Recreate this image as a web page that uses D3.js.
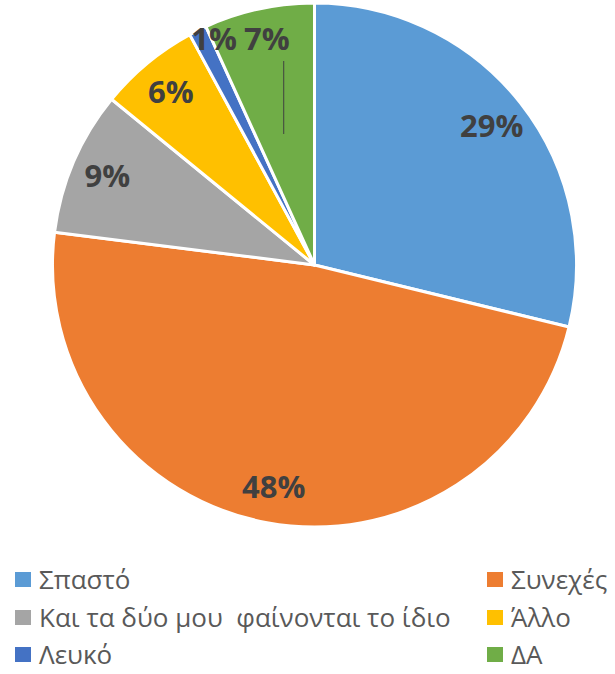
<!DOCTYPE html>
<html>
<head>
<meta charset="utf-8">
<script src="https://cdn.jsdelivr.net/npm/d3@7"></script>
<style>
  body { margin: 0; background: #fff; }
  svg { display: block; }
  .legend text { white-space: pre; }
</style>
</head>
<body>
<svg id="chart" width="615" height="674"></svg>
<script>
var categories = ['Σπαστό', 'Συνεχές', 'Και τα δύο μου  φαίνονται το ίδιο', 'Άλλο', 'Λευκό', 'ΔΑ']
var values = [28.8, 48.2, 8.9, 6.2, 1.1, 6.8]
var labels = ['29%', '48%', '9%', '6%', '1%', '7%']
var colors = ['#5b9bd5', '#ed7d31', '#a5a5a5', '#ffc000', '#4472c4', '#70ad47']

var cx = 314.5
var cy = 265
var radius = 262

var svg = d3.select('#chart')

var data = categories.map((c, i) => ({ name: c, value: values[i], label: labels[i], color: colors[i] }))

var pie = d3.pie().sort(null).value(d => d.value)
var arcs = pie(data)

var arc = d3.arc().innerRadius(0).outerRadius(radius)
var labelArc = d3.arc().innerRadius(radius * 0.86).outerRadius(radius * 0.86)

var g = svg.append('g')
    .attr('transform', 'translate(' + cx + ',' + cy + ')')

g.selectAll('.slice')
    .data(arcs)
  .enter().append('path')
    .attr('class', 'slice')
    .attr('d', arc)
    .attr('fill', d => d.data.color)
    .attr('stroke', '#fff')
    .attr('stroke-width', 3)
    .attr('stroke-linejoin', 'round')

// the two thin slices at the top get their labels lifted to the rim
function labelPos (d) {
  var p = labelArc.centroid(d)
  if (d.index >= 4) p[1] = -radius + 36
  return p
}

g.selectAll('.lbl')
    .data(arcs)
  .enter().append('text')
    .attr('class', 'lbl')
    .attr('x', d => labelPos(d)[0])
    .attr('y', d => labelPos(d)[1])
    .attr('dy', '0.36em')
    .attr('text-anchor', 'middle')
    .attr('font-family', 'Open Sans, sans-serif')
    .attr('font-weight', 'bold')
    .attr('font-size', 31)
    .attr('fill', '#404040')
    .text(d => d.data.label)

// leader line under the 7% label
var lp = labelPos(arcs[5])
g.append('line')
    .attr('x1', lp[0] + 17)
    .attr('x2', lp[0] + 17)
    .attr('y1', lp[1] + 22)
    .attr('y2', -radius * 0.5)
    .attr('stroke', '#404040')
    .attr('stroke-width', 1)

// legend, two columns
var legend = svg.append('g').attr('class', 'legend')
var colX = [15, 487]
var rowY = [580, 618, 655]

var item = legend.selectAll('.item')
    .data(data)
  .enter().append('g')
    .attr('class', 'item')
    .attr('transform', (d, i) => 'translate(' + colX[i % 2] + ',' + rowY[Math.floor(i / 2)] + ')')

item.append('rect')
    .attr('x', 0)
    .attr('y', -8)
    .attr('width', 16)
    .attr('height', 15)
    .attr('fill', d => d.color)

item.append('text')
    .attr('x', 24)
    .attr('y', 0)
    .attr('dy', '0.36em')
    .attr('font-family', 'Open Sans, sans-serif')
    .attr('font-size', 26)
    .attr('fill', '#595959')
    .text(d => d.name)
</script>
</body>
</html>
